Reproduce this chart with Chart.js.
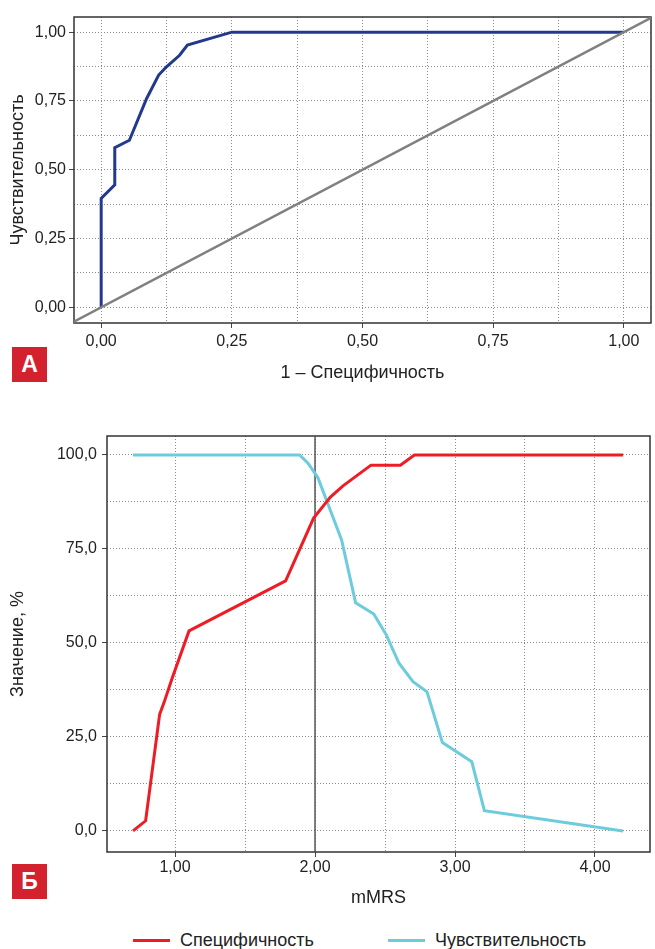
<!DOCTYPE html>
<html>
<head>
<meta charset="utf-8">
<script src="https://cdn.jsdelivr.net/npm/chart.js@4/dist/chart.umd.min.js"></script>
<style>
  body { margin: 0; background: #fff; width: 655px; height: 949px; position: relative; overflow: hidden;
         font-family: 'Liberation Sans', Arial, sans-serif; color: #222; }
  canvas { position: absolute; left: 0; }
  .tag { position: absolute; left: 12px; width: 35px; height: 35px; background: #d3222e; color: #fff;
         font-weight: bold; font-size: 23px; line-height: 35px; text-align: center; }
  .leg { position: absolute; top: 930px; height: 20px; display: flex; align-items: center; font-size: 18px; }
  .leg span.ln { display: inline-block; width: 37px; height: 3px; margin-right: 10px; }
</style>
</head>
<body>
<canvas id="roc-chart" width="655" height="400" style="top:0"></canvas>
<canvas id="cutoff-chart" width="655" height="520" style="top:400px"></canvas>
<div class="tag" style="top:347px">А</div>
<div class="tag" style="top:864px">Б</div>
<div class="leg" style="left:133px"><span class="ln" style="background:#ee1c25"></span>Специфичность</div>
<div class="leg" style="left:388px"><span class="ln" style="background:#6ccbdc"></span>Чувствительность</div>

<script>
// ROC curve (panel A)
var roc_x = [0, 0, 0.026, 0.026, 0.054, 0.087, 0.110, 0.125, 0.150, 0.165, 0.250, 1.000]
var roc_y = [0, 0.396, 0.445, 0.580, 0.607, 0.759, 0.844, 0.874, 0.916, 0.953, 1.000, 1.000]
var diag_x = [-0.06, 1.06]
var diag_y = [-0.06, 1.06]
var roc_ticks = [0, 0.125, 0.25, 0.375, 0.5, 0.625, 0.75, 0.875, 1]

// specificity / sensitivity vs mMRS (panel Б)
var spec_x = [0.70, 0.79, 0.89, 0.92, 0.98, 1.10, 1.79, 1.99, 2.11, 2.20, 2.40, 2.61, 2.71, 4.20]
var spec_y = [0, 2.7, 31, 34, 40.7, 53.2, 66.5, 83.2, 88.8, 91.8, 97.3, 97.3, 100, 100]
var sens_x = [0.70, 1.89, 1.95, 2.02, 2.19, 2.29, 2.42, 2.51, 2.60, 2.70, 2.80, 2.91, 3.12, 3.21, 4.20]
var sens_y = [100, 100, 97.8, 94, 77.4, 60.7, 57.7, 52.1, 44.6, 39.7, 37.0, 23.5, 18.4, 5.4, 0]
var cutoff_x = [2, 2]
var cutoff_y = [-6, 106]
var mmrs_ticks = [1, 1.5, 2, 2.5, 3, 3.5, 4]
var pct_ticks = [0, 12.5, 25, 37.5, 50, 62.5, 75, 87.5, 100]

function points(xs, ys) {
  return xs.map((x, i) => ({ x: x, y: ys[i] }))
}

Chart.defaults.font.family = "'Liberation Sans', Arial, sans-serif"
Chart.defaults.font.size = 16
Chart.defaults.color = '#222'
Chart.defaults.animation = false

var title_font = { size: 18 }
var no_border = { display: false, dash: [1, 2] }

// only the labelled grid lines get a small tick mark outside the frame
function grid_opts(step) {
  return {
    color: '#8c8c8c',
    tickLength: 5,
    tickColor: function(c) { return c.tick && Math.abs(c.tick.value / step % 1) < 1e-9 ? '#444' : 'transparent' }
  }
}

var frame = {
  id: 'frame',
  beforeDatasetsDraw(chart) {
    var a = chart.chartArea
    var c = chart.ctx
    c.save()
    c.strokeStyle = '#333'
    c.lineWidth = 1.5
    c.strokeRect(a.left, a.top, a.right - a.left, a.bottom - a.top)
    c.restore()
  }
}

function set_ticks(list) {
  return function(axis) { axis.ticks = list.map(v => ({ value: v })) }
}

new Chart(document.getElementById('roc-chart').getContext('2d'), {
  type: 'scatter',
  data: {
    datasets: [
      { data: points(diag_x, diag_y), showLine: true, borderColor: '#808080', borderWidth: 2.5, pointRadius: 0 },
      { data: points(roc_x, roc_y), showLine: true, borderColor: '#22398e', borderWidth: 3, pointRadius: 0 }
    ]
  },
  options: {
    responsive: false,
    layout: { padding: { top: 17, right: 4 } },
    plugins: { legend: { display: false }, tooltip: { enabled: false } },
    scales: {
      x: {
        min: -0.052, max: 1.052,
        afterBuildTicks: set_ticks(roc_ticks),
        afterFit: function(s) { s.height = 77 },
        grid: grid_opts(0.25),
        border: no_border,
        ticks: {
          padding: 4, maxRotation: 0, autoSkip: false,
          callback: function(v) { return (v * 4) % 1 == 0 ? v.toFixed(2).replace('.', ',') : '' }
        },
        title: { display: true, text: '1 – Специфичность', font: title_font, padding: { top: 0, bottom: 16 } }
      },
      y: {
        min: -0.057, max: 1.055,
        afterBuildTicks: set_ticks(roc_ticks),
        afterFit: function(s) { s.width = 74 },
        grid: grid_opts(0.25),
        border: no_border,
        ticks: {
          padding: 3, autoSkip: false,
          callback: function(v) { return (v * 4) % 1 == 0 ? v.toFixed(2).replace('.', ',') : '' }
        },
        title: { display: true, text: 'Чувствительность', font: title_font, padding: { top: 7, bottom: 0 } }
      }
    }
  },
  plugins: [frame]
});

new Chart(document.getElementById('cutoff-chart').getContext('2d'), {
  type: 'scatter',
  data: {
    datasets: [
      { label: 'Специфичность', data: points(spec_x, spec_y), showLine: true, borderColor: '#ee1c25', borderWidth: 3, pointRadius: 0 },
      { label: 'Чувствительность', data: points(sens_x, sens_y), showLine: true, borderColor: '#6ccbdc', borderWidth: 3, pointRadius: 0 },
      { data: points(cutoff_x, cutoff_y), showLine: true, borderColor: '#555', borderWidth: 1.5, pointRadius: 0 }
    ]
  },
  options: {
    responsive: false,
    layout: { padding: { top: 36, right: 5 } },
    plugins: { legend: { display: false }, tooltip: { enabled: false } },
    scales: {
      x: {
        min: 0.514, max: 4.393,
        afterBuildTicks: set_ticks(mmrs_ticks),
        afterFit: function(s) { s.height = 68 },
        grid: grid_opts(1),
        border: no_border,
        ticks: {
          padding: 1, maxRotation: 0, autoSkip: false,
          callback: function(v) { return v % 1 == 0 ? v.toFixed(2).replace('.', ',') : '' }
        },
        title: { display: true, text: 'mMRS', font: title_font, padding: { top: 0, bottom: 11 } }
      },
      y: {
        min: -5.6, max: 105.05,
        afterBuildTicks: set_ticks(pct_ticks),
        afterFit: function(s) { s.width = 107 },
        grid: grid_opts(25),
        border: no_border,
        ticks: {
          padding: 5, autoSkip: false,
          callback: function(v) { return v % 25 == 0 ? v.toFixed(1).replace('.', ',') : '' }
        },
        title: { display: true, text: 'Значение, %', font: title_font, padding: { top: 7, bottom: 0 } }
      }
    }
  },
  plugins: [frame]
});
</script>
</body>
</html>
